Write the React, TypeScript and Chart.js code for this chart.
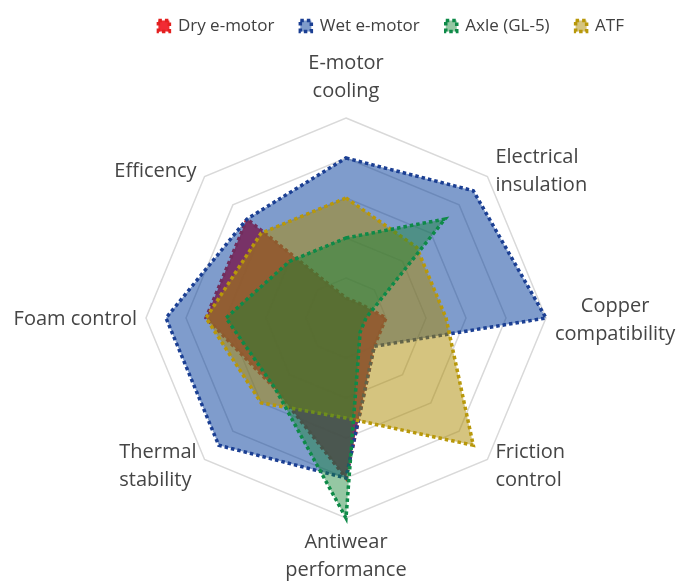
import React, { useEffect, useRef } from "react";
import { Chart, registerables } from "chart.js";

Chart.register(...registerables);

const categories: string[][] = [
  ["E-motor", "cooling"],
  ["Electrical", "insulation"],
  ["Copper", "compatibility"],
  ["Friction", "control"],
  ["Antiwear", "performance"],
  ["Thermal", "stability"],
  ["Foam control"],
  ["Efficency"],
];

const seriesNames = ["Dry e-motor", "Wet e-motor", "Axle (GL-5)", "ATF"];

const dryEmotor = [0.5, 0.5, 1, 1, 4, 2.5, 3.5, 3.5];
const wetEmotor = [4, 4.5, 5, 1, 4, 4.5, 4.5, 3.5];
const axleGL5 = [2, 3.5, 0.5, 0.5, 5, 2.5, 3, 2];
const atf = [3, 2.5, 2.5, 4.5, 2.5, 3, 3.5, 3];

const scaleMax = 5;

// label placement relative to each axis end
const labelLayout = [
  { anchor: "center", lineAlign: "center", dx: 0, dy: -49 },
  { anchor: "left", lineAlign: "left", dx: 8, dy: -14 },
  { anchor: "left", lineAlign: "center", dx: 9, dy: -6 },
  { anchor: "left", lineAlign: "left", dx: 8, dy: -1 },
  { anchor: "center", lineAlign: "center", dx: 0, dy: 30 },
  { anchor: "right", lineAlign: "left", dx: -8, dy: -1 },
  { anchor: "right", lineAlign: "left", dx: -9, dy: 7 },
  { anchor: "right", lineAlign: "left", dx: -8, dy: 0 },
];

const pointLabelPlugin = {
  id: "customPointLabels",
  afterDraw(chart: any) {
    const scale = chart.scales.r;
    const ctx = chart.ctx;
    ctx.save();
    ctx.font = "20px 'Open Sans'";
    ctx.fillStyle = "#454545";
    ctx.textBaseline = "alphabetic";
    ctx.textAlign = "left";
    categories.forEach((lines, i) => {
      const p = scale.getPointPosition(i, scale.drawingArea);
      const L = labelLayout[i];
      const widths = lines.map((t) => ctx.measureText(t).width);
      const bw = Math.max(...widths);
      const ax = p.x + L.dx;
      const left = L.anchor === "left" ? ax : L.anchor === "right" ? ax - bw : ax - bw / 2;
      lines.forEach((t, j) => {
        const x = L.lineAlign === "left" ? left : left + (bw - widths[j]) / 2;
        ctx.fillText(t, x, p.y + L.dy + j * 28);
      });
    });
    ctx.restore();
  },
};

export default function App() {
  const ref = useRef<HTMLCanvasElement | null>(null);
  useEffect(() => {
    if (!ref.current) return;
    Chart.defaults.font.family = "'Open Sans'";
    const dotted = { borderWidth: 3.5, borderDash: [3.5, 3], pointRadius: 0, fill: true };
    const chart = new Chart(ref.current, {
      type: "radar",
      data: {
        labels: categories,
        datasets: [
          { label: seriesNames[0], data: dryEmotor, borderColor: "#e3201f", backgroundColor: "rgba(240,25,35,0.92)", order: 4, ...dotted },
          { label: seriesNames[1], data: wetEmotor, borderColor: "#1b3f93", backgroundColor: "rgba(0,57,153,0.5)", order: 3, ...dotted },
          { label: seriesNames[2], data: axleGL5, borderColor: "#0e8a48", backgroundColor: "rgba(20,130,50,0.45)", order: 1, ...dotted },
          { label: seriesNames[3], data: atf, borderColor: "#b8980a", backgroundColor: "rgba(171,137,0,0.5)", order: 2, ...dotted },
        ],
      } as any,
      options: {
        animation: false,
        responsive: true,
        maintainAspectRatio: false,
        layout: { padding: { top: -8.5, left: 42, right: 31, bottom: 64 } },
        scales: {
          r: {
            min: 0,
            max: scaleMax,
            ticks: { display: false, stepSize: 1 },
            grid: { color: "#d9d9d9", lineWidth: 1.5 },
            angleLines: { display: false },
            pointLabels: { display: false },
          },
        },
        plugins: {
          legend: {
            position: "top",
            align: "end",
            labels: {
              boxWidth: 11,
              boxHeight: 11,
              padding: 26,
              color: "#404040",
              font: { size: 17 },
              sort: (a: any, b: any) => a.datasetIndex - b.datasetIndex,
            },
          },
          subtitle: {
            display: true,
            text: "",
            weight: 500,
            padding: { top: 72.5, bottom: 0 },
            font: { size: 1, lineHeight: 1 },
          } as any,
          tooltip: { enabled: false },
        },
      } as any,
      plugins: [pointLabelPlugin],
    });
    return () => chart.destroy();
  }, []);
  return (
    <div style={{ position: "fixed", left: 0, top: 0, width: 681, height: 582 }}>
      <canvas ref={ref} />
    </div>
  );
}
